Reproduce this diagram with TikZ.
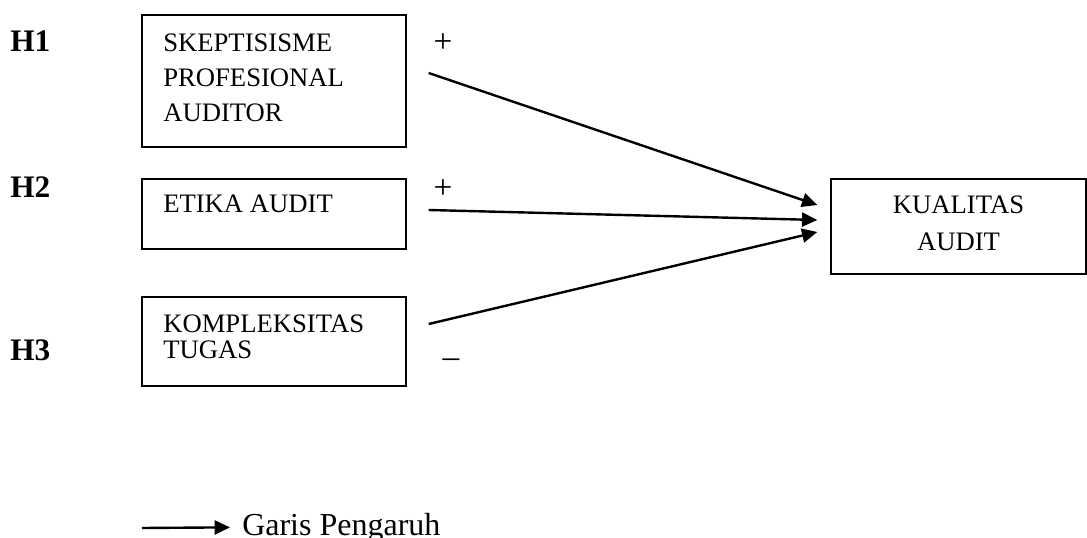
\documentclass[tikz,border=0pt]{standalone}
\usepackage{fontspec}
\setmainfont{Liberation Serif}
\usetikzlibrary{arrows.meta,positioning,calc}

\begin{document}
\begin{tikzpicture}[x=0.75pt, y=-0.75pt,
    varbox/.style={draw=black, line width=1pt, inner sep=0pt},
    vartext/.style={anchor=base west, inner sep=0pt, align=left, font=\fontsize{20}{#1}\selectfont},
    hyp/.style={anchor=base west, inner sep=0pt, font=\fontsize{23.5}{28}\selectfont\bfseries},
    sign/.style={inner sep=0pt, font=\fontsize{25}{27}\selectfont},
    pengaruh/.style={line width=1.8pt, -{Triangle[length=11.5pt,width=10.5pt]}}]
  \useasboundingbox (0,0) rectangle (1087,538);

  % Hypothesis labels
  \node[hyp] (h1) at (10,52) {H1};
  \node[hyp] (h2) at (10,198) {H2};
  \node[hyp] (h3) at (10,360) {H3};

  % Independent variables (text placed by the baseline of its last line)
  \node[varbox, minimum width=198pt, minimum height=99pt] (skep) at (274,81) {};
  \node[vartext=26.25pt] (skeptext) at (163,121.5) {SKEPTISISME\\PROFESIONAL\\AUDITOR};

  \node[varbox, minimum width=198pt, minimum height=52.5pt] (etika) at (274,214) {};
  \node[vartext=26pt] (etikatext) at (163,213) {ETIKA AUDIT};

  \node[varbox, minimum width=198pt, minimum height=66.75pt] (kompl) at (274,341.5) {};
  \node[vartext=19.5pt] (kompltext) at (163,358.5) {KOMPLEKSITAS\\TUGAS};

  % Dependent variable
  \node[varbox, minimum width=191.25pt, minimum height=71.25pt] (kual) at (958.5,226.5) {};
  \node[vartext=27.75pt, anchor=base, align=center] (kualtext) at (958.5,250.5) {KUALITAS\\AUDIT};

  % Signs
  \node[sign] (plus1) at (443,43) {+};
  \node[sign] (plus2) at (443,189) {+};
  \node[sign] (minus3) at (451,363) {–};

  % Influence arrows
  \draw[pengaruh] ([shift={(22,-8)}]skep.east) -- ([shift={(-13,-21.5)}]kual.west);
  \draw[pengaruh] ([shift={(22,-4)}]etika.east) -- ([shift={(-13,-6.5)}]kual.west);
  \draw[pengaruh] ([shift={(22,-17.5)}]kompl.east) -- ([shift={(-13,5.5)}]kual.west);

  % Legend
  \coordinate (legstart) at (142,528);
  \node[anchor=base west, inner sep=0pt, font=\fontsize{24}{28}\selectfont] (legtext) at (242,535) {Garis Pengaruh};
  \draw[pengaruh] (legstart) -- ([xshift=-9]legtext.west);
\end{tikzpicture}
\end{document}
